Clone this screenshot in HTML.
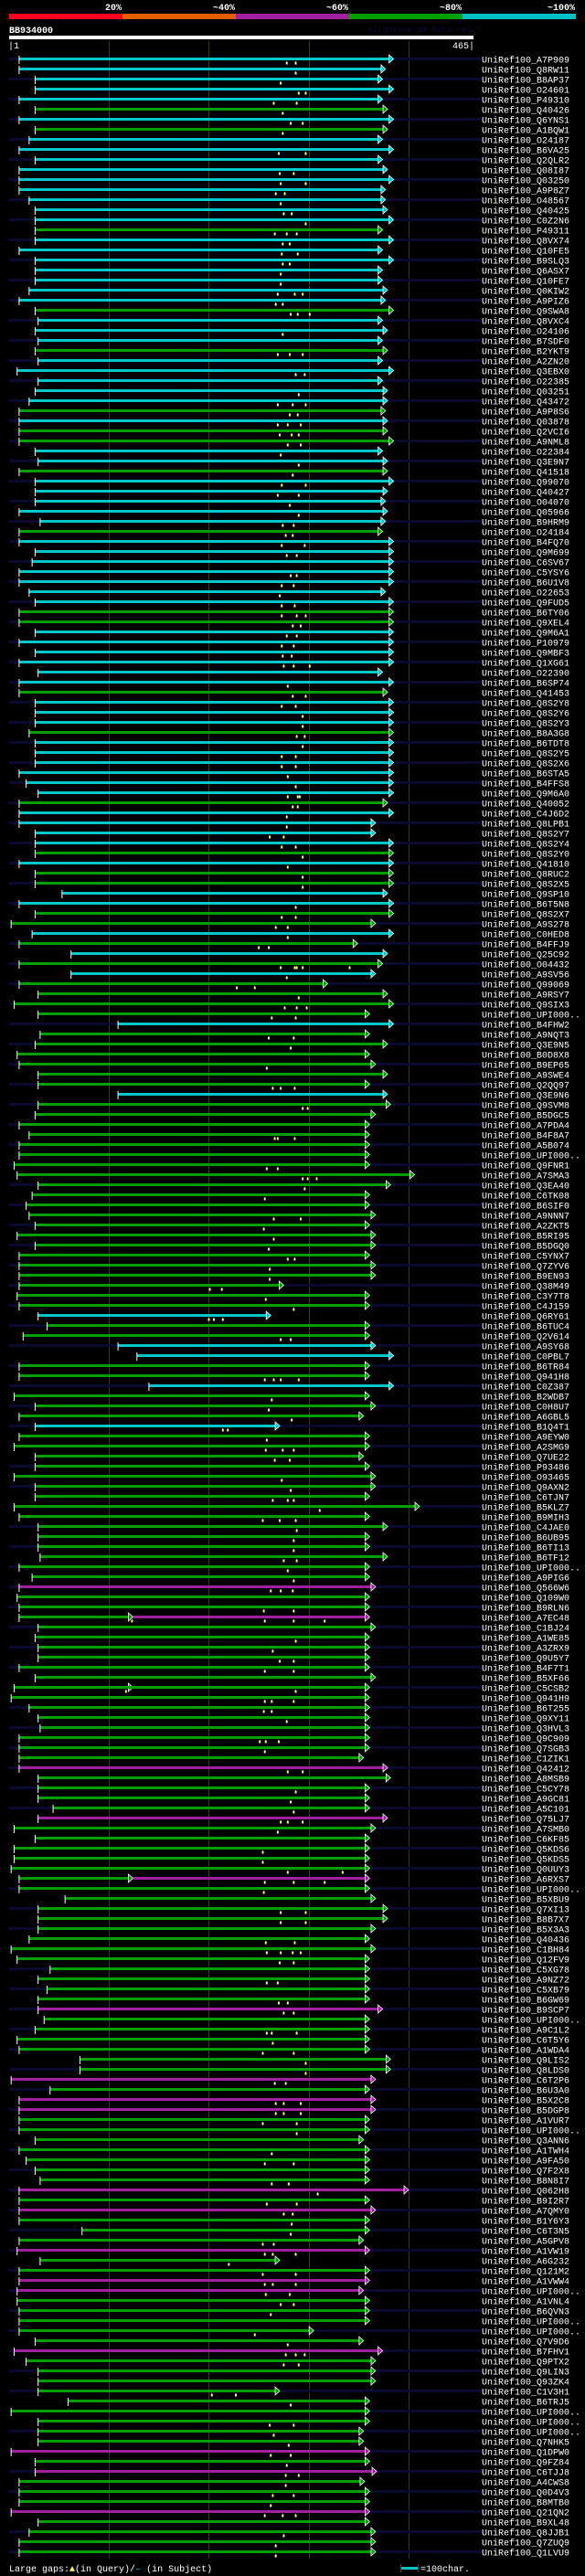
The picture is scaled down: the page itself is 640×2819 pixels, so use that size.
<!DOCTYPE html>
<html><head><meta charset="utf-8">
<style>
html,body{margin:0;padding:0;background:#000;}
svg{display:block;}
text{font-family:"Liberation Mono",monospace;}
</style></head>
<body>
<svg id="chart" width="640" height="2819" viewBox="0 0 640 2819" xmlns="http://www.w3.org/2000/svg">
<rect x="0" y="0" width="640" height="2819" fill="#000"/>
<g>
<text x="133" y="11" fill="#fff" font-size="10" font-weight="bold" text-anchor="end">20%</text>
<text x="257" y="11" fill="#fff" font-size="10" font-weight="bold" text-anchor="end">~40%</text>
<text x="381" y="11" fill="#fff" font-size="10" font-weight="bold" text-anchor="end">~60%</text>
<text x="505" y="11" fill="#fff" font-size="10" font-weight="bold" text-anchor="end">~80%</text>
<text x="629" y="11" fill="#fff" font-size="10" font-weight="bold" text-anchor="end">~100%</text>
<rect x="10" y="15" width="124" height="6" fill="#ff0020"/>
<rect x="134" y="15" width="124" height="6" fill="#e06000"/>
<rect x="258" y="15" width="124" height="6" fill="#a020a0"/>
<rect x="382" y="15" width="124" height="6" fill="#00a000"/>
<rect x="506" y="15" width="124" height="6" fill="#00c0c8"/>
</g>
<text x="10" y="36" fill="#fff" font-size="10" font-weight="bold">BB934000</text>
<text x="402" y="35" fill="#0c0c3a" font-size="9">AlignView.pm Beta rel.7</text>
<rect x="10" y="39" width="508" height="4" fill="#fff"/>
<text x="9" y="53" fill="#fff" font-size="10">|1</text>
<text x="519" y="53" fill="#fff" font-size="10" text-anchor="end">465|</text>
<g id="grid"></g>
<g id="rows"></g>
<text x="10" y="2814" fill="#fff" font-size="10">Large gaps:<tspan fill="#ffff60">▲</tspan>(in Query)/<tspan fill="#00c0c8">–</tspan> (in Subject)</text>
<g>
<rect x="439" y="2809" width="19" height="3" fill="#00c0c8"/>
<rect x="438" y="2806" width="1" height="9" fill="#404010"/>
<text x="460" y="2814" fill="#fff" font-size="10">=100char.</text>
</g>
</svg>
<script>
const labels = ("A7P909,Q8RW11,B8AP37,O24601,P49310,Q40426,Q6YNS1,A1BQW1,O24187,B6VA25,"+
"Q2QLR2,Q08I87,Q03250,A9P8Z7,O48567,Q40425,C0Z2N6,P49311,Q8VX74,Q10FE5,"+
"B9SLQ3,Q6ASX7,Q10FE7,Q0KIW2,A9PIZ6,Q9SWA8,Q8VXC4,O24106,B7SDF0,B2YKT9,"+
"A2ZN20,Q3EBX0,O22385,Q03251,Q43472,A9P8S6,Q03878,Q2VCI6,A9NML8,O22384,"+
"Q3E9N7,Q41518,Q99070,Q40427,O04070,Q05966,B9HRM9,O24184,B4FQ70,Q9M699,"+
"C6SV67,C5YSY6,B6U1V8,O22653,Q9FUD5,B6TY06,Q9XEL4,Q9M6A1,P10979,Q9MBF3,"+
"Q1XG61,O22390,B6SP74,Q41453,Q8S2Y8,Q8S2Y6,Q8S2Y3,B8A3G8,B6TDT8,Q8S2Y5,"+
"Q8S2X6,B6STA5,B4FFS8,Q9M6A0,Q40052,C4J6D2,Q8LPB1,Q8S2Y7,Q8S2Y4,Q8S2Y0,"+
"Q41810,Q8RUC2,Q8S2X5,Q9SP10,B6T5N8,Q8S2X7,A9S278,C0HED8,B4FFJ9,Q25C92,"+
"O04432,A9SV56,Q99069,A9RSY7,Q9SIX3,UPI000..,B4FHW2,A9NQT3,Q3E9N5,B0D8X8,"+
"B9EP65,A9SWE4,Q2QQ97,Q3E9N6,Q9SVM8,B5DGC5,A7PDA4,B4F8A7,A5B074,UPI000..,"+
"Q9FNR1,A7SMA3,Q3EA40,C6TK08,B6SIF0,A9NNN7,A2ZKT5,B5RI95,B5DGQ0,C5YNX7,"+
"Q7ZYV6,B9EN93,Q38M49,C3Y7T8,C4J159,Q6RY61,B6TUC4,Q2V614,A9SY68,C0PBL7,"+
"B6TR84,Q941H8,C0Z387,B2WDB7,C0H8U7,A6GBL5,B1Q4T1,A9EYW0,A2SMG9,Q7UE22,"+
"P93486,O93465,Q9AXN2,C6TJN7,B5KLZ7,B9MIH3,C4JAE0,B6UB95,B6TI13,B6TF12,"+
"UPI000..,A9PIG6,Q566W6,Q109W0,B9RLN6,A7EC48,C1BJ24,A1WE85,A3ZRX9,Q9U5Y7,"+
"B4F7T1,B5XF66,C5CSB2,Q941H9,B6T255,Q9XY11,Q3HVL3,Q9C909,Q7SGB3,C1ZIK1,"+
"Q42412,A8MSB9,C5CY78,A9GC81,A5C101,Q75LJ7,A7SMB0,C6KF85,Q5KDS6,Q5KDS5,"+
"Q0UUY3,A6RXS7,UPI000..,B5XBU9,Q7XI13,B8B7X7,B5X3A3,Q40436,C1BH84,Q12FV9,"+
"C5XG78,A9NZ72,C5XB79,B6GW69,B9SCP7,UPI000..,A9C1L2,C6T5Y6,A1WDA4,Q9LIS2,"+
"Q8LDS0,C6T2P6,B6U3A0,B5X2C8,B5DGP8,A1VUR7,UPI000..,Q3ANN6,A1TWH4,A9FA50,"+
"Q7F2X8,B8N8I7,Q062H8,B9I2R7,A7QMY0,B1Y6Y3,C6T3N5,A5GPV8,A1VW19,A6G232,"+
"Q121M2,A1VWW4,UPI000..,A1VNL4,B6QVN3,UPI000..,UPI000..,Q7V9D6,B7FHV1,Q9PTX2,"+
"Q9LIN3,Q93ZK4,C1V3H1,B6TRJ5,UPI000..,UPI000..,UPI000..,Q7NHK5,Q1DPW0,Q9FZ84,"+
"C6TJJ8,A4CWS8,Q0D4V3,B8MTB0,Q21QN2,B9XL48,Q8JJB1,Q7ZUQ9,Q1LVU9").split(",");
const identityClass = ("cccccgcgcc"+"cccccccgcc"+"cccccgcccg"+"cccccgcggc"+"cgcccccgcc"+
"cccccggccc"+"cccgcccgcc"+"ccccgccccg"+"cggccggcgc"+"gcggggcggg"+
"gggcgggggg"+"gggggggggg"+"gggggcggcc"+"ggcgggcggg"+"gggggggggg"+
"ggmggmgggg"+"gggggggggg"+"mggggmgggg"+"gmgggggggg"+"ggggmggggg"+
"gmgmmggggg"+"ggmgmgggmg"+"gmmgggggmg"+"ggggggggmg"+"mgggmgggg").split("");
const starts = [10,10,26,26,10,26,10,26,20,10, 26,10,10,10,20,26,26,26,26,10,
26,26,26,20,10,26,29,26,29,26, 29,8,29,26,20,10,10,10,10,26,
29,10,26,26,26,10,31,10,10,26, 23,10,10,20,26,10,10,26,10,26,
10,29,10,10,26,26,26,20,26,26, 26,10,17,29,10,10,10,26,26,26,
10,26,26,53,10,26,2,23,10,62, 10,62,10,29,5,29,109,31,26,8,
10,29,29,109,29,26,10,20,10,10, 5,8,29,23,17,20,26,8,26,10,
10,10,10,8,10,29,38,14,109,128, 10,10,140,5,26,10,26,10,5,26,
26,5,26,26,5,10,29,29,29,31, 10,23,10,8,10,124,29,26,29,29,
10,26,26,2,20,29,31,10,10,10, 10,29,29,29,44,29,5,26,5,5,
2,124,10,56,29,29,29,20,2,8, 41,29,38,29,29,35,26,8,10,71,
71,2,41,10,10,10,10,26,10,17, 26,31,10,10,10,10,73,10,8,31,
10,10,8,8,10,10,10,26,5,17, 29,29,29,59,2,29,29,29,2,26,
26,10,10,10,2,29,20,10,10];
const ends = [385,377,374,385,374,379,385,379,374,385, 374,379,385,377,377,379,385,374,385,374,
385,374,374,379,377,385,374,379,374,379, 374,385,374,379,379,377,379,379,385,374,
379,379,385,379,377,379,377,374,385,385, 385,385,385,377,385,385,385,385,385,385,
385,374,385,379,385,385,385,385,385,385, 385,385,385,385,379,385,367,367,385,385,
385,385,385,379,385,385,367,385,349,379, 374,367,319,379,385,361,385,361,379,361,
367,379,361,379,382,367,361,361,361,361, 361,406,382,361,361,367,361,367,367,361,
367,367,275,361,361,262,361,361,367,385, 361,361,385,361,367,355,271,361,361,355,
361,367,367,361,411,361,379,361,361,379, 361,361,367,361,361,361,367,361,361,361,
361,367,361,361,361,361,361,361,361,355, 379,382,361,361,361,379,367,361,361,361,
361,361,361,367,379,379,367,361,367,361, 361,361,361,361,374,361,361,361,361,382,
382,367,361,367,367,361,361,355,361,361, 361,361,400,361,367,361,361,355,361,271,
361,361,355,361,361,361,305,355,374,367, 367,367,271,361,361,361,355,355,361,361,
368,356,361,361,361,361,367,367,367];
const gaps = [[278,287],[287],[272],[290,297],[265,288],[274],[282,294],[274],[],[270,297],
[],[271,285],[272,297],[267,276],[272],[275,283],[297],[266,278,288],[274,281],[273,289],
[274,281],[272],[272],[269,286,294],[267,274],[282,289,301],[],[274],[],[269,281,294],
[],[287,296],[],[290],[269,284,297],[281,289],[269,279,292],[271,283,290],[279,292],[272],
[290],[284],[273,297],[269,290],[281],[290],[274,285],[277,284],[273,296],[278,288],
[],[282,288],[273,285],[271],[273,286],[273,288,297],[284,292],[278,288],[273,285],[274,283],
[275,285,301],[],[279],[284,297],[273,287],[294],[294],[288,296],[294],[273,287],
[273,287],[279],[287],[279,289,291],[284,289],[278],[278],[261,275],[273,287],[294],
[279],[294],[294],[],[287],[273,287],[267,279],[279],[250,260],[],
[272,286,288,294,341],[278],[228,246],[290],[276,288,298],[263,287],[],[260,285],[282],[],
[258],[],[264,272,286],[],[294,299],[],[],[266,269,286],[],[],
[258,269],[294,299,308],[296],[256],[],[265,292],[255],[265],[260],[279,286],
[261],[261],[201,213],[257],[285],[200,205,214],[],[272,282],[],[],
[],[256,265,272,290],[],[263],[260],[283],[214,219],[258],[257,274,285],[266,281],
[],[273],[282],[264,279,285],[311],[254,271,287],[288],[285],[285],[275,288],
[279],[285],[262,272,284],[],[255,285],[123,256,285,316],[],[287],[264],[271,285],
[256,285],[],[117,287],[256,263,285],[255,263],[278],[],[251,257,270],[256],[],
[279,294],[],[287],[282],[285],[272,279,294],[269],[],[254],[254],
[279,334],[256,285,316],[255],[],[272,297],[272,297],[],[257,286],[258,272,284,292],[271,285],
[],[258,269],[],[270,279],[275,285],[],[258,263,288],[264],[254,285],[297],
[297],[266,277],[],[267,275,292],[267,275,292],[254,288],[288],[],[263],[256,285],
[],[263,280],[309],[258,288],[275,284],[283],[282],[254,265],[256,264,287],[220],
[254,287],[256,264,287],[257,281],[272,285],[262],[],[246],[279],[277,287,296],[275,290],
[],[],[203,227],[282],[],[261,285],[265],[280],[262,282],[278],
[277,290],[277],[264,285],[262],[256,274,287],[],[275],[267],[267]];
// extra leading segments (rows with two HSPs), 0-based row index
const extraRows = [155,162,181];
const extraStarts = [10,5,10];
const extraEnds = [124,124,124];
const gridTicks = [100,200,300,400];

const NS = "http://www.w3.org/2000/svg";
const QLEN = 465, X0 = 10, XW = 508;
function xScale(p){ return X0 + p * XW / QLEN; }
function yRow(i){ return 64.5 + 11 * i; }
const colorMap = {c:"#00c8c8", g:"#00a000", m:"#a020a0"};

function mk(tag, attrs, parent){
  const el = document.createElementNS(NS, tag);
  for (const k in attrs) el.setAttribute(k, attrs[k]);
  parent.appendChild(el);
  return el;
}
const gridG = document.getElementById("grid");
gridTicks.forEach(t => {
  const l = mk("rect", {x: Math.round(xScale(t)), y: 45, width: 1, height: 2755, fill: "#3a3a0c"}, gridG);
  
  
});
const lg = mk("rect", {x: 457, y: 2806, width: 1, height: 9, fill: "#404010"}, document.getElementById("chart"));



const rowsG = document.getElementById("rows");
function drawSeg(g, s, e, col, y, tick){
  const x1 = xScale(s), x2 = xScale(e);
  const bar = mk("rect", {x: x1, y: y - 1.5, width: Math.max(0, x2 - x1 - 5), height: 3, fill: col}, g);
  
  
  const ar = mk("polygon", {points: (x2-5)+","+(y-4.5)+" "+x2+","+y+" "+(x2-5)+","+(y+4.5), fill: col, stroke: "#fff", "stroke-width": 0.8}, g);
  
  
  if (tick){
    const tk = mk("rect", {x: x1 - 0.5, y: y - 3.5, width: 1, height: 9, fill: "#fff"}, g);
    
    
  }
}
for (let i = 0; i < labels.length; i++){
  const y = yRow(i);
  const g = mk("g", {}, rowsG);
  
  
  if (i % 2 === 0){
    const st = mk("rect", {x: 10, y: y - 1.5, width: 517, height: 3, fill: "#0a0a2e"}, g);
    
    
  }
  const col = colorMap[identityClass[i]] || colorMap.g;
  const ex = extraRows.indexOf(i);
  if (ex >= 0){
    drawSeg(g, extraStarts[ex], extraEnds[ex], colorMap.g, y, true);
    drawSeg(g, starts[i], ends[i], col, y, false);
  } else {
    drawSeg(g, starts[i], ends[i], col, y, true);
  }
  (gaps[i] || []).forEach(p => {
    const gx = xScale(p);
    const m = mk("polygon", {points: (gx-1)+","+(y+6)+" "+(gx-1)+","+(y+3.5)+" "+gx+","+(y+2.5)+" "+(gx+1)+","+(y+3.5)+" "+(gx+1)+","+(y+6), fill: "#ffff60"}, g);
    
    
  });
  const t = mk("text", {x: 527, y: y + 4, fill: "#fff", "font-size": 10}, g);
  t.textContent = "UniRef100_" + labels[i];
  
  
}
</script>
</body></html>
